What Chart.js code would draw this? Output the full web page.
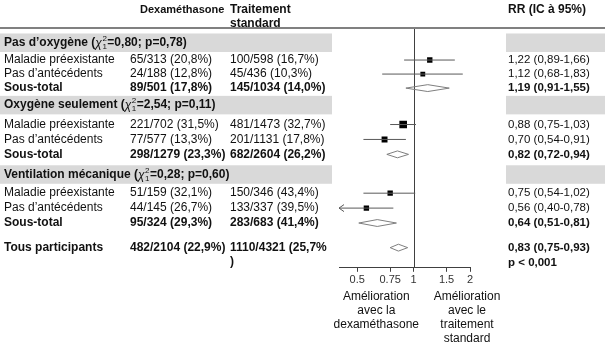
<!DOCTYPE html>
<html><head><meta charset="utf-8">
<script src="https://cdn.jsdelivr.net/npm/chart.js@4.4.1/dist/chart.umd.min.js"></script>
<style>html,body{margin:0;padding:0;background:#fff;}canvas{display:block}</style>
</head><body>
<canvas id="c" width="605" height="354"></canvas>
<script>
// ---------- data ----------
const groupTitles = ['Pas d’oxygène', 'Oxygène seulement', 'Ventilation mécanique'];
const groupChi2 = ['0,80', '2,54', '0,28'];
const groupP = ['0,78', '0,11', '0,60'];
const rowLabels = ['Maladie préexistante', 'Pas d’antécédents', 'Sous-total'];
const dexaCounts = [
  ['65/313 (20,8%)', '24/188 (12,8%)', '89/501 (17,8%)'],
  ['221/702 (31,5%)', '77/577 (13,3%)', '298/1279 (23,3%)'],
  ['51/159 (32,1%)', '44/145 (26,7%)', '95/324 (29,3%)']
];
const stdCounts = [
  ['100/598 (16,7%)', '45/436 (10,3%)', '145/1034 (14,0%)'],
  ['481/1473 (32,7%)', '201/1131 (17,8%)', '682/2604 (26,2%)'],
  ['150/346 (43,4%)', '133/337 (39,5%)', '283/683 (41,4%)']
];
const rrEst = [[1.22, 1.12, 1.19], [0.88, 0.70, 0.82], [0.75, 0.56, 0.64]];
const rrLow = [[0.89, 0.68, 0.91], [0.75, 0.54, 0.72], [0.54, 0.40, 0.51]];
const rrHigh = [[1.66, 1.83, 1.55], [1.03, 0.91, 0.94], [1.02, 0.78, 0.81]];
const boxWeight = [[0.5, 0.38], [1.0, 0.62], [0.5, 0.5]];
const totalLabel = 'Tous participants';
const totalDexa = '482/2104 (22,9%)';
const totalStd = '1110/4321 (25,7%';
const totalRR = [0.83, 0.75, 0.93];
const totalP = 'p < 0,001';
const tickValues = [0.5, 0.75, 1, 1.5, 2];
const leftNote = ['Amélioration', 'avec la', 'dexaméthasone'];
const rightNote = ['Amélioration', 'avec le', 'traitement', 'standard'];

// ---------- layout (row slots on the y scale) ----------
const headerPos = [0.92, 5.1, 9.75];
const rowPos = [[2.08, 3.02, 3.96], [6.4, 7.4, 8.4], [11.0, 12.0, 13.0]];
const totalPos = 14.65;
const bandHalf = 0.62;
const diamondHalf = 0.23;
const FONT = '"Liberation Sans", Arial, sans-serif';
const FS = 12;

const fmt = v => v.toFixed(2).replace('.', ',');
const rrText = (e, l, h) => fmt(e) + ' (' + fmt(l) + '-' + fmt(h) + ')';

// ---------- datasets ----------
const datasets = [];
for (let g = 0; g < 3; g++) {
  for (let r = 0; r < 2; r++) {
    datasets.push({
      data: [{x: rrLow[g][r], y: rowPos[g][r]}, {x: rrHigh[g][r], y: rowPos[g][r]}],
      showLine: true, borderColor: '#595959', borderWidth: 1, pointRadius: 0
    });
  }
}
const boxPts = [], boxR = [];
for (let g = 0; g < 3; g++) for (let r = 0; r < 2; r++) {
  boxPts.push({x: rrEst[g][r], y: rowPos[g][r]});
  boxR.push(2.2 + 3.2 * boxWeight[g][r]);
}
datasets.push({data: boxPts, pointStyle: 'rect', pointRadius: boxR, backgroundColor: '#000', borderWidth: 0, showLine: false});
function diamond(e, l, h, y) {
  return {
    data: [{x: l, y: y}, {x: e, y: y - diamondHalf}, {x: h, y: y}, {x: e, y: y + diamondHalf}, {x: l, y: y}],
    showLine: true, borderColor: '#7f7f7f', borderWidth: 1, pointRadius: 0, tension: 0, fill: false
  };
}
for (let g = 0; g < 3; g++) datasets.push(diamond(rrEst[g][2], rrLow[g][2], rrHigh[g][2], rowPos[g][2]));
datasets.push(diamond(totalRR[0], totalRR[1], totalRR[2], totalPos));

// ---------- drawing helpers ----------
function txt(ctx, s, x, y, bold, align, size) {
  ctx.font = (bold ? 'bold ' : '') + (size || FS) + 'px ' + FONT;
  ctx.textAlign = align || 'left';
  ctx.fillText(s, x, y);
}

const LX = 4, DX = 130, SX = 230, RX = 508;

const tablePlugin = {
  id: 'table',
  beforeDraw(chart) {
    const ctx = chart.ctx, ys = chart.scales.y, xs = chart.scales.x;
    ctx.save();
    ctx.fillStyle = '#fff';
    ctx.fillRect(0, 0, chart.width, chart.height);
    ctx.fillStyle = '#d9d9d9';
    headerPos.forEach(p => {
      const t = ys.getPixelForValue(p - bandHalf), b = ys.getPixelForValue(p + bandHalf);
      ctx.fillRect(0, t, 332, b - t);
      ctx.fillRect(506, t, chart.width - 506, b - t);
    });
    ctx.fillStyle = '#808080';
    ctx.fillRect(0, chart.chartArea.top - 2, chart.width, 2);
    // reference line at RR = 1
    const x1 = Math.round(xs.getPixelForValue(1)) + 0.5;
    ctx.strokeStyle = '#404040';
    ctx.lineWidth = 1;
    ctx.beginPath();
    ctx.moveTo(x1, chart.chartArea.top);
    ctx.lineTo(x1, chart.chartArea.bottom);
    ctx.stroke();
    ctx.restore();
  },
  afterDatasetsDraw(chart) {
    const ctx = chart.ctx, ys = chart.scales.y, xs = chart.scales.x;
    ctx.save();
    // arrows for intervals reaching the axis minimum
    ctx.strokeStyle = '#595959';
    ctx.lineWidth = 1;
    for (let g = 0; g < 3; g++) for (let r = 0; r < 2; r++) {
      if (rrLow[g][r] <= xs.min + 1e-9) {
        const ax = xs.getPixelForValue(xs.min), ay = ys.getPixelForValue(rowPos[g][r]);
        ctx.beginPath();
        ctx.moveTo(ax + 5, ay - 3.5); ctx.lineTo(ax, ay); ctx.lineTo(ax + 5, ay + 3.5);
        ctx.stroke();
      }
    }
    ctx.fillStyle = '#111';
    ctx.textBaseline = 'middle';
    // headers
    txt(ctx, 'Dexaméthasone', 140, 10, true, 'left', 11);
    txt(ctx, 'Traitement', SX, 10, true);
    txt(ctx, 'standard', SX, 24, true);
    txt(ctx, 'RR (IC à 95%)', RX, 10, true);
    // groups
    for (let g = 0; g < 3; g++) {
      const hy = ys.getPixelForValue(headerPos[g]);
      ctx.font = 'bold ' + FS + 'px ' + FONT;
      ctx.textAlign = 'left';
      let x = LX;
      const pre = groupTitles[g] + ' (';
      ctx.fillText(pre, x, hy); x += ctx.measureText(pre).width;
      ctx.font = 'italic ' + FS + 'px ' + FONT;
      ctx.fillText('χ', x, hy + 1); x += ctx.measureText('χ').width + 0.5;
      ctx.font = '8px ' + FONT;
      ctx.fillText('2', x, hy - 4);
      ctx.fillText('1', x, hy + 4);
      x += ctx.measureText('2').width + 0.5;
      ctx.font = 'bold ' + FS + 'px ' + FONT;
      ctx.fillText('=' + groupChi2[g] + '; p=' + groupP[g] + ')', x, hy);
      for (let r = 0; r < 3; r++) {
        const y = ys.getPixelForValue(rowPos[g][r]);
        const b = r === 2;
        txt(ctx, rowLabels[r], LX, y, b);
        txt(ctx, dexaCounts[g][r], DX, y, b);
        txt(ctx, stdCounts[g][r], SX, y, b);
        txt(ctx, rrText(rrEst[g][r], rrLow[g][r], rrHigh[g][r]), RX, y, b, 'left', 11.5);
      }
    }
    const ty = ys.getPixelForValue(totalPos);
    txt(ctx, totalLabel, LX, ty, true);
    txt(ctx, totalDexa, DX, ty, true);
    txt(ctx, totalStd, SX, ty, true);
    txt(ctx, ')', SX, ty + 14, true);
    txt(ctx, rrText(totalRR[0], totalRR[1], totalRR[2]), RX, ty, true, 'left', 11.5);
    txt(ctx, totalP, RX, ty + 15, true, 'left', 11.5);
    // notes under the axis
    const lx = (xs.left + xs.getPixelForValue(1)) / 2;
    const rx = xs.right - 3;
    const ny = xs.bottom + 8;
    leftNote.forEach((s, i) => txt(ctx, s, lx, ny + i * 14, false, 'center'));
    rightNote.forEach((s, i) => txt(ctx, s, rx, ny + i * 14, false, 'center'));
    ctx.restore();
  }
};

new Chart(document.getElementById('c'), {
  type: 'scatter',
  data: {datasets},
  options: {
    responsive: false,
    devicePixelRatio: 1,
    animation: false,
    events: [],
    layout: {padding: {left: 339, right: 135, top: 29, bottom: 65}},
    plugins: {legend: {display: false}, tooltip: {enabled: false}},
    scales: {
      x: {
        type: 'logarithmic', min: 0.4, max: 2, position: 'bottom',
        afterBuildTicks: s => { s.ticks = tickValues.map(v => ({value: v})); },
        ticks: {autoSkip: false, maxRotation: 0, minRotation: 0, padding: 2, color: '#333',
          font: {family: FONT, size: 11}, callback: v => String(v)},
        grid: {drawOnChartArea: false, drawTicks: true, tickLength: 4, color: '#404040'},
        border: {display: true, color: '#404040', width: 1}
      },
      y: {type: 'linear', min: 0, max: 16, reverse: true, display: false}
    }
  },
  plugins: [tablePlugin]
});
</script>
</body></html>
